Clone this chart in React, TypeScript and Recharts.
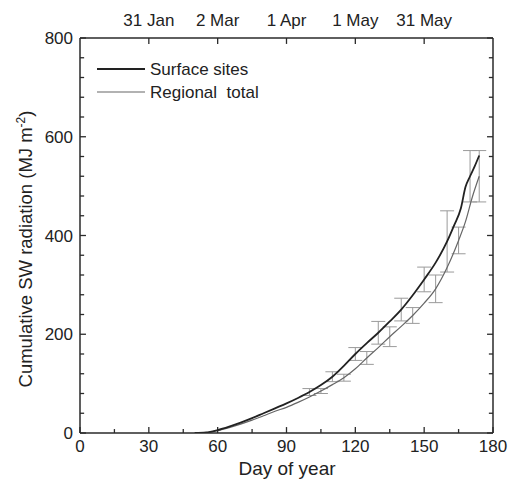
import {
  ComposedChart,
  Line,
  Scatter,
  ErrorBar,
  XAxis,
  YAxis,
  Legend,
  ReferenceLine,
} from "recharts"

// Surface sites (dark curve)
const surfaceDays = [50, 55, 60, 65, 70, 75, 80, 85, 90, 95, 100, 105, 110, 115, 120, 125, 130, 135, 140, 145, 150, 155, 160, 163, 166, 168, 170, 172, 174]
const surfaceValues = [0, 1, 6, 13, 21, 30, 40, 50, 60, 71, 83, 97, 114, 136, 160, 182, 203, 226, 250, 279, 311, 345, 388, 420, 455, 498, 520, 540, 562]
const surfaceBarDays = [100, 110, 120, 130, 140, 150, 160, 170]
const surfaceBarErr = [7, 10, 13, 23, 23, 25, 62, 52]

// Regional total (lighter curve)
const regionalDays = [50, 55, 60, 65, 70, 75, 80, 85, 90, 95, 100, 105, 110, 115, 120, 125, 130, 135, 140, 145, 150, 155, 160, 165, 168, 171, 174]
const regionalValues = [0, 1, 5, 11, 18, 26, 35, 44, 52, 62, 73, 85, 98, 112, 130, 152, 173, 195, 216, 238, 263, 292, 335, 390, 428, 478, 520]
const regionalBarDays = [105, 115, 125, 135, 145, 155, 165, 174]
const regionalBarErr = [5, 7, 13, 20, 16, 28, 27, 52]

const bottomTicks = [0, 15, 30, 45, 60, 75, 90, 105, 120, 135, 150, 165, 180]
const leftTicks = [0, 40, 80, 120, 160, 200, 240, 280, 320, 360, 400, 440, 480, 520, 560, 600, 640, 680, 720, 760, 800]
const topTickDays = [30, 60, 90, 120, 150]
const topTickLabels = ["31 Jan", "2 Mar", "1 Apr", "1 May", "31 May"]

const surfaceData = surfaceDays.map((day, i) => ({ day, value: surfaceValues[i] }))
const regionalData = regionalDays.map((day, i) => ({ day, value: regionalValues[i] }))
const surfaceBars = surfaceBarDays.map((day, i) => ({ day, value: surfaceValues[surfaceDays.indexOf(day)], err: surfaceBarErr[i] }))
const regionalBars = regionalBarDays.map((day, i) => ({ day, value: regionalValues[regionalDays.indexOf(day)], err: regionalBarErr[i] }))

const INK = "#2a2a2a"
const FONT = 17

// inward tick lengths, in data units (x: days, y: MJ m-2)
const X_MAJOR = 2.6
const X_MINOR = 1.8
const Y_MAJOR = 12
const Y_MINOR = 8

function LeftTick(props: any) {
  const v = props.payload.value
  if (v % 200 !== 0) return <g />
  return (
    <text x={Number(props.x) - 7} y={Number(props.y) + 6} textAnchor="end" fontSize={FONT} fill="#222">
      {v}
    </text>
  )
}

function BottomTick(props: any) {
  const v = props.payload.value
  if (v % 30 !== 0) return <g />
  return (
    <text x={Number(props.x)} y={Number(props.y) + 19} textAnchor="middle" fontSize={FONT} fill="#222">
      {v}
    </text>
  )
}

function TopTick(props: any) {
  const label = topTickLabels[topTickDays.indexOf(props.payload.value)]
  return (
    <text x={Number(props.x)} y={Number(props.y) - 12} textAnchor="middle" fontSize={FONT} fill="#222">
      {label}
    </text>
  )
}

function LegendBox() {
  return (
    <svg width={200} height={50} style={{ display: "block" }}>
      <line x1={0} y1={12} x2={48} y2={12} stroke="#222" strokeWidth={1.8} />
      <text x={53} y={18} fontSize={FONT} fill="#222">Surface sites</text>
      <line x1={0} y1={35} x2={48} y2={35} stroke="#666" strokeWidth={1.2} />
      <text x={53} y={41} fontSize={FONT} fill="#222" style={{ whiteSpace: "pre" }}>Regional  total</text>
    </svg>
  )
}

const axisLine = { stroke: INK, strokeWidth: 1.5 }

export default function App() {
  return (
    <div style={{ position: "relative", width: 509, height: 473, fontFamily: "'Liberation Sans', Arial, sans-serif" }}>
      <ComposedChart width={509} height={473} margin={{ top: 0, right: 0, bottom: 0, left: 0 }}>
        <XAxis
          xAxisId="b"
          dataKey="day"
          type="number"
          domain={[0, 180]}
          allowDataOverflow
          ticks={bottomTicks}
          interval={0}
          height={48}
          tickSize={0}
          tickMargin={0}
          tickLine={false}
          tick={(p: any) => <BottomTick {...p} />}
          axisLine={axisLine}
        />
        <XAxis
          xAxisId="t"
          dataKey="day"
          orientation="top"
          type="number"
          domain={[0, 180]}
          allowDataOverflow
          ticks={topTickDays}
          interval={0}
          height={30}
          tickSize={0}
          tickMargin={0}
          tickLine={false}
          tick={(p: any) => <TopTick {...p} />}
          axisLine={axisLine}
        />
        <YAxis
          yAxisId="l"
          type="number"
          domain={[0, 800]}
          allowDataOverflow
          ticks={leftTicks}
          interval={0}
          width={72}
          tickSize={0}
          tickMargin={0}
          tickLine={false}
          tick={(p: any) => <LeftTick {...p} />}
          axisLine={axisLine}
        />
        <YAxis
          yAxisId="r"
          orientation="right"
          type="number"
          domain={[0, 800]}
          allowDataOverflow
          ticks={leftTicks}
          interval={0}
          width={24}
          tickSize={0}
          tickMargin={0}
          tickLine={false}
          tick={() => <g />}
          axisLine={axisLine}
        />
        <Legend
          layout="vertical"
          align="center"
          verticalAlign="middle"
          wrapperStyle={{ top: 49, left: 89, width: 200, height: 50 }}
          content={<LegendBox />}
        />
        {/* invisible series so the top and right axes get their scales */}
        <Line
          xAxisId="t"
          yAxisId="r"
          data={surfaceData}
          dataKey="value"
          stroke="none"
          dot={false}
          activeDot={false}
          legendType="none"
          isAnimationActive={false}
        />

        {/* inward tick marks on all four sides */}
        {bottomTicks.map((d) => (
          <ReferenceLine
            key={`b${d}`}
            xAxisId="b"
            yAxisId="l"
            segment={[{ x: d, y: 0 }, { x: d, y: d % 30 === 0 ? Y_MAJOR : Y_MINOR }]}
            stroke={INK}
            strokeWidth={1.3}
          />
        ))}
        {topTickDays.map((d) => (
          <ReferenceLine
            key={`t${d}`}
            xAxisId="b"
            yAxisId="l"
            segment={[{ x: d, y: 800 }, { x: d, y: 800 - Y_MAJOR }]}
            stroke={INK}
            strokeWidth={1.3}
          />
        ))}
        {leftTicks.map((v) => (
          <ReferenceLine
            key={`l${v}`}
            xAxisId="b"
            yAxisId="l"
            segment={[{ x: 0, y: v }, { x: v % 200 === 0 ? X_MAJOR : X_MINOR, y: v }]}
            stroke={INK}
            strokeWidth={1.3}
          />
        ))}
        {leftTicks.map((v) => (
          <ReferenceLine
            key={`r${v}`}
            xAxisId="b"
            yAxisId="l"
            segment={[{ x: 180, y: v }, { x: 180 - (v % 200 === 0 ? X_MAJOR : X_MINOR), y: v }]}
            stroke={INK}
            strokeWidth={1.3}
          />
        ))}

        <Scatter xAxisId="b" yAxisId="l" data={surfaceBars} dataKey="value" shape={() => <g />} isAnimationActive={false}>
          <ErrorBar dataKey="err" direction="y" width={7} stroke="#9a9a9a" strokeWidth={1} isAnimationActive={false} />
        </Scatter>
        <Scatter xAxisId="b" yAxisId="l" data={regionalBars} dataKey="value" shape={() => <g />} isAnimationActive={false}>
          <ErrorBar dataKey="err" direction="y" width={7} stroke="#9a9a9a" strokeWidth={1} isAnimationActive={false} />
        </Scatter>
        <Line xAxisId="b" yAxisId="l" data={regionalData} dataKey="value" type="monotone" stroke="#666" strokeWidth={1.2} dot={false} isAnimationActive={false} />
        <Line xAxisId="b" yAxisId="l" data={surfaceData} dataKey="value" type="monotone" stroke="#222" strokeWidth={1.8} dot={false} isAnimationActive={false} />
      </ComposedChart>
      {/* axis titles */}
      <svg width={509} height={473} style={{ position: "absolute", left: 0, top: 0, pointerEvents: "none" }}>
        <text x={17} y={241} transform="rotate(-90, 17, 241)" textAnchor="middle" dy="0.36em" fontSize={18.5} fill="#222">
          Cumulative SW radiation (MJ m
          <tspan fontSize={12} dy={-7}>-2</tspan>
          <tspan dy={7}>)</tspan>
        </text>
        <text x={279} y={467} textAnchor="middle" fontSize={19} fill="#222">
          Day of year
        </text>
      </svg>
    </div>
  )
}
